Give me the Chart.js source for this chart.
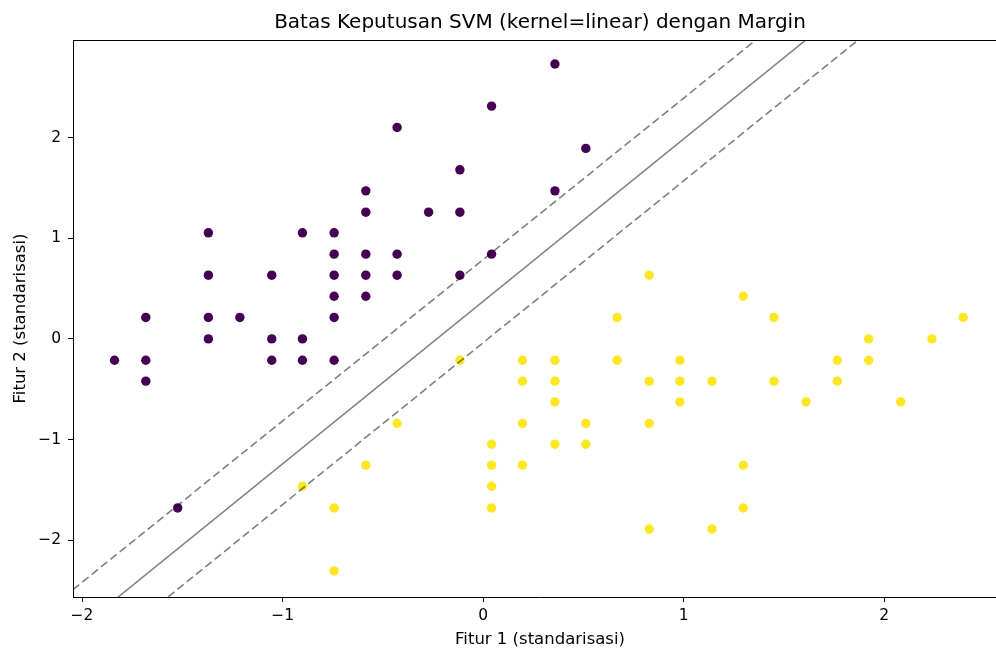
<!DOCTYPE html>
<html>
<head>
<meta charset="utf-8">
<title>Batas Keputusan SVM</title>
<script src="https://cdn.jsdelivr.net/npm/chart.js@4.4.1/dist/chart.umd.min.js"></script>
<style>
    html, body { margin: 0; padding: 0; background: #ffffff; overflow: hidden; }
    /* the figure is cropped at the right edge, like the original */
    #wrap { width: 996px; height: 650px; overflow: hidden; }
</style>
</head>
<body>
<div id="wrap"><canvas id="svmChart" width="1007" height="650"></canvas></div>
<script>
// Class 0 (purple)
const class0X = [-1.838, -1.682, -1.682, -1.682, -1.523, -1.37, -1.37, -1.37, -1.37, -1.213,
    -1.054, -1.054, -1.054, -0.901, -0.901, -0.901, -0.743, -0.743, -0.743, -0.743,
    -0.743, -0.743, -0.585, -0.585, -0.585, -0.585, -0.585, -0.429, -0.429, -0.429,
    -0.272, -0.116, -0.116, -0.116, 0.042, 0.042, 0.358, 0.358, 0.512];
const class0Y = [-0.212, 0.213, -0.212, -0.42, -1.68, 1.054, 0.633, 0.213, 0, 0.213,
    0.633, 0, -0.212, 1.054, 0, -0.212, 1.054, 0.842, 0.633, 0.424,
    0.213, -0.212, 1.471, 1.259, 0.842, 0.633, 0.424, 2.101, 0.842, 0.633,
    1.259, 1.68, 1.259, 0.633, 2.313, 0.842, 2.731, 1.471, 1.893];

// Class 1 (yellow)
const class1X = [-0.901, -0.743, -0.743, -0.585, -0.429, -0.116, 0.042, 0.042, 0.042, 0.042,
    0.196, 0.196, 0.196, 0.196, 0.358, 0.358, 0.358, 0.358, 0.512, 0.512,
    0.668, 0.668, 0.828, 0.828, 0.828, 0.828, 0.981, 0.981, 0.981, 1.141,
    1.141, 1.297, 1.297, 1.297, 1.45, 1.45, 1.61, 1.766, 1.766, 1.922,
    1.922, 2.082, 2.238, 2.394];
const class1Y = [-1.464, -1.68, -2.306, -1.255, -0.841, -0.212, -1.047, -1.255, -1.464, -1.68,
    -0.212, -0.42, -0.841, -1.255, -0.212, -0.42, -0.626, -1.047, -0.841, -1.047,
    0.213, -0.212, 0.633, -0.42, -0.841, -1.89, -0.212, -0.42, -0.626, -0.42,
    -1.89, 0.424, -1.255, -1.68, 0.213, -0.42, -0.626, -0.212, -0.42, 0,
    -0.212, -0.626, 0, 0.213];

// Decision boundary and margins (endpoints)
const boundaryX = [-1.82, 1.609];
const boundaryY = [-2.565, 2.97];
const marginUpX = [-2.045, 1.36];
const marginUpY = [-2.491, 2.97];
const marginDownX = [-1.571, 1.87];
const marginDownY = [-2.565, 2.97];

const tickValuesX = [-2, -1, 0, 1, 2];
const tickValuesY = [-2, -1, 0, 1, 2];

const FONT = "'DejaVu Sans', sans-serif";

function toPoints(xs, ys) {
    return xs.map((x, i) => ({ x: x, y: ys[i] }));
}

function minusSign(v) {
    return String(v).replace('-', '\u2212');
}

// Top spine like matplotlib's box
const framePlugin = {
    id: 'frame',
    afterDraw(chart) {
        const { ctx, chartArea } = chart;
        ctx.save();
        ctx.strokeStyle = '#000000';
        ctx.lineWidth = 1;
        ctx.beginPath();
        ctx.moveTo(chartArea.left, chartArea.top + 0.5);
        ctx.lineTo(chartArea.right, chartArea.top + 0.5);
        ctx.stroke();
        ctx.restore();
    }
};

const lineStyle = {
    type: 'line',
    showLine: true,
    pointRadius: 0,
    borderColor: 'rgba(0, 0, 0, 0.5)',
    borderWidth: 1.6,
    fill: false,
    order: 0
};

new Chart(document.getElementById('svmChart').getContext('2d'), {
    type: 'scatter',
    data: {
        datasets: [
            { ...lineStyle, data: toPoints(boundaryX, boundaryY) },
            { ...lineStyle, borderDash: [8, 4], data: toPoints(marginUpX, marginUpY) },
            { ...lineStyle, borderDash: [8, 4], data: toPoints(marginDownX, marginDownY) },
            {
                data: toPoints(class0X, class0Y),
                backgroundColor: '#440154',
                borderWidth: 0,
                pointRadius: 4.7,
                order: 1
            },
            {
                data: toPoints(class1X, class1Y),
                backgroundColor: '#fde725',
                borderWidth: 0,
                pointRadius: 4.7,
                order: 1
            }
        ]
    },
    options: {
        responsive: false,
        animation: false,
        events: [],
        layout: { padding: 0, autoPadding: false },
        plugins: {
            legend: { display: false },
            tooltip: { enabled: false },
            title: {
                display: true,
                fullSize: false,
                text: 'Batas Keputusan SVM (kernel=linear) dengan Margin',
                color: '#000000',
                font: { family: FONT, size: 20, weight: 'normal' },
                padding: { top: 11, bottom: 5 }
            }
        },
        scales: {
            x: {
                type: 'linear',
                min: -2.045,
                max: 2.612,
                afterBuildTicks: (scale) => { scale.ticks = tickValuesX.map(v => ({ value: v })); },
                afterFit: (scale) => { scale.height = 53; },
                grid: { display: true, drawOnChartArea: false, drawTicks: true, tickLength: 5, color: '#000000' },
                border: { display: true, color: '#000000', width: 1 },
                ticks: {
                    color: '#000000',
                    font: { family: FONT, size: 15.5 },
                    padding: 5,
                    maxRotation: 0,
                    callback: (v) => minusSign(v)
                },
                title: {
                    display: true,
                    text: 'Fitur 1 (standarisasi)',
                    color: '#000000',
                    font: { family: FONT, size: 16.5 },
                    padding: { top: 0, bottom: 0 }
                }
            },
            y: {
                type: 'linear',
                min: -2.565,
                max: 2.97,
                afterBuildTicks: (scale) => { scale.ticks = tickValuesY.map(v => ({ value: v })); },
                afterFit: (scale) => { scale.width = 73; },
                grid: { display: true, drawOnChartArea: false, drawTicks: true, tickLength: 5, color: '#000000' },
                border: { display: true, color: '#000000', width: 1 },
                ticks: {
                    color: '#000000',
                    font: { family: FONT, size: 15.5 },
                    padding: 7,
                    callback: (v) => minusSign(v)
                },
                title: {
                    display: true,
                    text: 'Fitur 2 (standarisasi)',
                    color: '#000000',
                    font: { family: FONT, size: 16.5 },
                    padding: { top: 11, bottom: 0 }
                }
            }
        }
    },
    plugins: [framePlugin]
});
</script>
</body>
</html>
